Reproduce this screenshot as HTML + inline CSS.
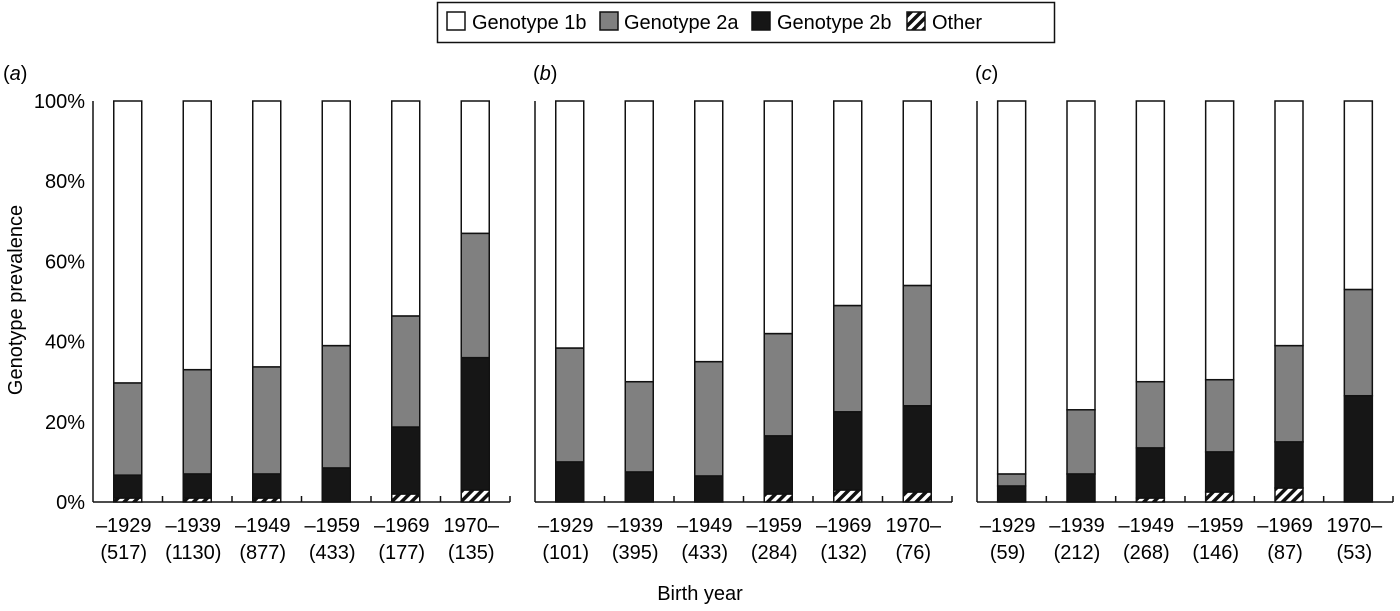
<!DOCTYPE html>
<html><head><meta charset="utf-8"><style>
body{margin:0;background:#fff;width:1400px;height:606px;overflow:hidden;font-family:"Liberation Sans",Arial,sans-serif}
</style></head><body>
<svg id="chart" width="1400" height="606" viewBox="0 0 1400 606" xmlns="http://www.w3.org/2000/svg" font-family="Liberation Sans, Arial, sans-serif">
<defs>
<pattern id="hatch" patternUnits="userSpaceOnUse" width="7" height="7" patternTransform="rotate(45)">
<rect width="7" height="7" fill="#fff"/><rect width="3.5" height="7" fill="#111"/>
</pattern>
</defs>
<g id="legend">
<rect x="437.5" y="2.5" width="617" height="40" fill="#fff" stroke="#111" stroke-width="1.5"/>
<g><rect x="447" y="12" width="18" height="18" fill="#fff" stroke="#111" stroke-width="1.5"/><text x="472" y="29" font-size="20">Genotype 1b</text></g>
<g><rect x="600" y="12" width="18" height="18" fill="#808080" stroke="#111" stroke-width="1.5"/><text x="624" y="29" font-size="20">Genotype 2a</text></g>
<g><rect x="752" y="12" width="18" height="18" fill="#161616" stroke="#111" stroke-width="1.5"/><text x="777" y="29" font-size="20">Genotype 2b</text></g>
<g><rect x="907" y="12" width="18" height="18" fill="url(#hatch)" stroke="#111" stroke-width="1.5"/><text x="932" y="29" font-size="20">Other</text></g>
</g>
<text transform="translate(22,300) rotate(-90)" text-anchor="middle" font-size="20">Genotype prevalence</text>
<text x="700" y="600" text-anchor="middle" font-size="20">Birth year</text>
<g id="plots"></g>
</svg>
<script>
const categories = ["–1929","–1939","–1949","–1959","–1969","1970–"];
const panelLabels = ["a","b","c"];
const counts = [[517,1130,877,433,177,135],[101,395,433,284,132,76],[59,212,268,146,87,53]];
const other = [[1,1,1,0,2,3],[0,0,0,2,3,2.5],[0,0,1,2.5,3.5,0]];
const g2b = [[5.7,6,6,8.5,16.7,33],[10,7.5,6.5,14.5,19.5,21.5],[4,7,12.5,10,11.5,26.5]];
const g2a = [[23,26,26.7,30.5,27.7,31],[28.4,22.5,28.5,25.5,26.5,30],[3,16,16.5,18,24,26.5]];
const yTicks = [0,20,40,60,80,100];

const NS="http://www.w3.org/2000/svg";
const root=document.getElementById('plots');
const y0=502, y100=101;
const yScale=v=>y0-(y0-y100)*v/100;
const panelX=[93,535,977], panelW=[417,417,416];
const barW=28;
function mk(tag,attrs,parent){const e=document.createElementNS(NS,tag);for(const k in attrs)e.setAttribute(k,attrs[k]);parent.appendChild(e);return e;}
panelLabels.forEach((pl,p)=>{
  const g=mk('g',{},root);
  
  
  const x0=panelX[p], w=panelW[p];
  const xScale=i=>x0+w*(i+0.5)/categories.length;
  const lab=mk('text',{x:x0-(p==0?90:2),y:80,'font-size':20},g);
  lab.innerHTML='(<tspan font-style="italic">'+pl+'</tspan>)';
  
  
  const ya=mk('line',{x1:x0,x2:x0,y1:y100,y2:y0,stroke:'#111','stroke-width':1.5},g);
  
  
  const xa=mk('line',{x1:x0,x2:x0+w,y1:y0,y2:y0,stroke:'#111','stroke-width':1.5},g);
  
  
  for(let i=1;i<=categories.length;i++){
    const tx=x0+w*i/categories.length;
    const t=mk('line',{x1:tx,x2:tx,y1:y0,y2:y0-6,stroke:'#111','stroke-width':1.5},g);
    
    
  }
  if(p==0){yTicks.forEach(v=>{
    const t=mk('text',{x:x0-8,y:yScale(v)+7,'text-anchor':'end','font-size':20},g);
    t.textContent=v+'%';
    
    
  });}
  categories.forEach((c,i)=>{
    const cx=xScale(i), bx=cx-barW/2;
    const o=other[p][i], b=g2b[p][i], a=g2a[p][i];
    const segs=[[0,o,'url(#hatch)','other'],[o,o+b,'#161616','2b'],[o+b,o+b+a,'#808080','2a'],[o+b+a,100,'#fff','1b']];
    segs.forEach(s=>{
      if(s[1]-s[0]<=0)return;
      const r=mk('rect',{x:bx,y:yScale(s[1]),width:barW,height:yScale(s[0])-yScale(s[1]),fill:s[2],stroke:'#111','stroke-width':1.5},g);
      
      
    });
    const t1=mk('text',{x:cx-4,y:532,'text-anchor':'middle','font-size':20},g);
    t1.textContent=c;
    
    
    const t2=mk('text',{x:cx-4,y:559,'text-anchor':'middle','font-size':20},g);
    t2.textContent='('+counts[p][i]+')';
    
    
  });
});
</script>
</body></html>
